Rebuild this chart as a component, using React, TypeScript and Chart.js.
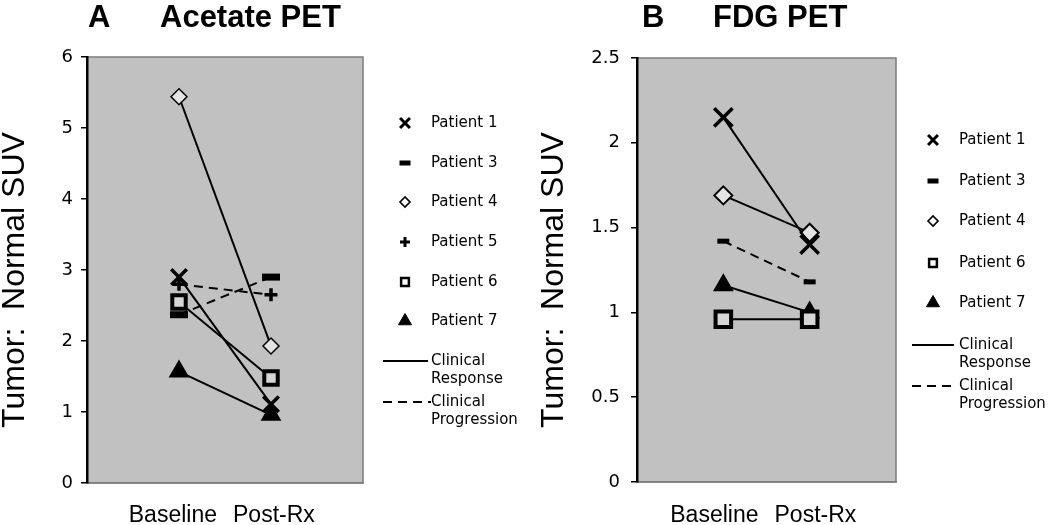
import React, { useEffect, useRef } from 'react';
import { Chart, registerables } from 'chart.js';
import { drawPoint } from 'chart.js/helpers';

Chart.register(...registerables);

// ---------- data ----------
const categories = ['Baseline', 'Post-Rx'];
const categoryPositions = [1, 2];

const acetateP1 = [2.9, 1.11];
const acetateP3 = [2.37, 2.9];
const acetateP4 = [5.44, 1.93];
const acetateP5 = [2.8, 2.65];
const acetateP6 = [2.55, 1.48];
const acetateP7 = [1.57, 0.96];

const fdgP1 = [2.15, 1.4];
const fdgP3 = [1.42, 1.18];
const fdgP4 = [1.69, 1.47];
const fdgP6 = [0.96, 0.96];
const fdgP7 = [1.16, 1.0];

const acetateTicks = [0, 1, 2, 3, 4, 5, 6];
const fdgTicks = [0, 0.5, 1, 1.5, 2, 2.5];

const yTitle = 'Tumor:  Normal SUV';

// ---------- styles ----------
type Marker = { pointStyle: string; radius: number; borderWidth: number; fill: string };

const markerStyles: Record<string, { plot: Marker; plotB: Marker; legend: Marker }> = {
  'Patient 1': {
    plot: { pointStyle: 'crossRot', radius: 11, borderWidth: 3.5, fill: '#000' },
    plotB: { pointStyle: 'crossRot', radius: 13, borderWidth: 3.5, fill: '#000' },
    legend: { pointStyle: 'crossRot', radius: 7, borderWidth: 3, fill: '#000' },
  },
  'Patient 3': {
    plot: { pointStyle: 'line', radius: 9, borderWidth: 7, fill: '#000' },
    plotB: { pointStyle: 'line', radius: 6, borderWidth: 5, fill: '#000' },
    legend: { pointStyle: 'line', radius: 5.5, borderWidth: 5, fill: '#000' },
  },
  'Patient 4': {
    plot: { pointStyle: 'rectRot', radius: 8, borderWidth: 1.5, fill: '#e4e4e4' },
    plotB: { pointStyle: 'rectRot', radius: 9, borderWidth: 2, fill: '#e4e4e4' },
    legend: { pointStyle: 'rectRot', radius: 5, borderWidth: 1.6, fill: '#fff' },
  },
  'Patient 5': {
    plot: { pointStyle: 'cross', radius: 6.5, borderWidth: 3.5, fill: '#000' },
    plotB: { pointStyle: 'cross', radius: 6.5, borderWidth: 3.5, fill: '#000' },
    legend: { pointStyle: 'cross', radius: 5, borderWidth: 3, fill: '#000' },
  },
  'Patient 6': {
    plot: { pointStyle: 'rect', radius: 9.5, borderWidth: 4, fill: '#d6d6d6' },
    plotB: { pointStyle: 'rect', radius: 11, borderWidth: 4, fill: '#d6d6d6' },
    legend: { pointStyle: 'rect', radius: 5.5, borderWidth: 2.5, fill: '#fff' },
  },
  'Patient 7': {
    plot: { pointStyle: 'triangle', radius: 10, borderWidth: 2, fill: '#000' },
    plotB: { pointStyle: 'triangle', radius: 10, borderWidth: 2, fill: '#000' },
    legend: { pointStyle: 'triangle', radius: 7.5, borderWidth: 1, fill: '#000' },
  },
};

type Series = { name: string; values: number[]; progression: boolean };

type PanelSpec = {
  letter: string;
  title: string;
  series: Series[];
  ticks: number[];
  yMax: number;
  area: { left: number; top: number; right: number; bottom: number };
  padLeft: number;
  tickPad: number;
  legend: { markerX: number; textX: number; rows: number[]; lineX0: number; lineX1: number; respY: number; progY: number };
  letterX: number;
  titleX: number;
  yTitleX: number;
  big: boolean;
};

const panelA: PanelSpec = {
  letter: 'A',
  title: 'Acetate PET',
  series: [
    { name: 'Patient 1', values: acetateP1, progression: false },
    { name: 'Patient 3', values: acetateP3, progression: true },
    { name: 'Patient 4', values: acetateP4, progression: false },
    { name: 'Patient 5', values: acetateP5, progression: true },
    { name: 'Patient 6', values: acetateP6, progression: false },
    { name: 'Patient 7', values: acetateP7, progression: false },
  ],
  ticks: acetateTicks,
  yMax: 6,
  area: { left: 87, top: 57, right: 363, bottom: 483 },
  padLeft: 0,
  tickPad: 8,
  legend: { markerX: 405, textX: 431, rows: [123, 163, 202, 242, 282, 321], lineX0: 383, lineX1: 428, respY: 361, progY: 402 },
  letterX: 88,
  titleX: 160,
  yTitleX: 15,
  big: false,
};

const panelB: PanelSpec = {
  letter: 'B',
  title: 'FDG PET',
  series: [
    { name: 'Patient 1', values: fdgP1, progression: false },
    { name: 'Patient 3', values: fdgP3, progression: true },
    { name: 'Patient 4', values: fdgP4, progression: false },
    { name: 'Patient 6', values: fdgP6, progression: false },
    { name: 'Patient 7', values: fdgP7, progression: false },
  ],
  ticks: fdgTicks,
  yMax: 2.5,
  area: { left: 112, top: 58, right: 371, bottom: 482 },
  padLeft: 14,
  tickPad: 11,
  legend: { markerX: 408, textX: 434, rows: [140, 181, 221, 263, 303], lineX0: 387, lineX1: 429, respY: 345, progY: 386 },
  letterX: 117,
  titleX: 188,
  yTitleX: 29,
  big: true,
};

const W = 525;
const H = 525;

function buildChart(canvas: HTMLCanvasElement, spec: PanelSpec) {
  const datasets = spec.series.map((s) => {
    const m = spec.big ? markerStyles[s.name].plotB : markerStyles[s.name].plot;
    return {
      label: s.name,
      data: s.values.map((v, i) => ({ x: categoryPositions[i], y: v })),
      borderColor: '#000',
      borderWidth: 2,
      borderDash: s.progression ? [9, 6] : [],
      pointStyle: m.pointStyle as any,
      pointRadius: m.radius,
      pointBorderWidth: m.borderWidth,
      pointBorderColor: '#000',
      pointBackgroundColor: m.fill,
      pointHoverRadius: m.radius,
      fill: false,
      tension: 0,
    };
  });

  const bgPlugin = {
    id: 'plotBg',
    beforeDraw(chart: any) {
      const { ctx, chartArea: a } = chart;
      ctx.save();
      ctx.fillStyle = '#c1c1c1';
      ctx.fillRect(a.left, a.top, a.right - a.left, a.bottom - a.top);
      ctx.strokeStyle = '#7c7c7c';
      ctx.lineWidth = 1.5;
      ctx.strokeRect(a.left, a.top, a.right - a.left, a.bottom - a.top);
      ctx.restore();
    },
  };

  const decoPlugin = {
    id: 'deco',
    afterDraw(chart: any) {
      const ctx: CanvasRenderingContext2D = chart.ctx;
      const a = chart.chartArea;
      ctx.save();
      // panel titles
      ctx.fillStyle = '#000';
      ctx.font = 'bold 31px "Liberation Sans", Arial, sans-serif';
      ctx.textBaseline = 'alphabetic';
      ctx.textAlign = 'left';
      ctx.fillText(spec.letter, spec.letterX, 27);
      ctx.fillText(spec.title, spec.titleX, 27);

      // y-axis title
      ctx.save();
      ctx.translate(spec.yTitleX, 280);
      ctx.rotate(-Math.PI / 2);
      ctx.font = '32px "Liberation Sans", Arial, sans-serif';
      ctx.textAlign = 'center';
      ctx.textBaseline = 'middle';
      ctx.fillText(yTitle, 0, 0);
      ctx.restore();

      // category labels under the plot, set against the middle of the axis
      const xs = chart.scales.x;
      const p0 = xs.getPixelForValue(categoryPositions[0]);
      const p1 = xs.getPixelForValue(categoryPositions[1]);
      const mid = (p0 + p1) / 2;
      ctx.font = '23px "Liberation Sans", Arial, sans-serif';
      ctx.textBaseline = 'alphabetic';
      ctx.textAlign = 'right';
      ctx.fillText(categories[0], mid - 8, 522);
      ctx.textAlign = 'left';
      ctx.fillText(categories[1], mid + 8, 522);

      // legend
      const L = spec.legend;
      ctx.font = '15px "DejaVu Sans", Verdana, sans-serif';
      ctx.textBaseline = 'middle';
      ctx.textAlign = 'left';
      spec.series.forEach((s, i) => {
        const m = markerStyles[s.name].legend;
        const y = L.rows[i];
        ctx.fillStyle = m.fill;
        ctx.strokeStyle = '#000';
        ctx.lineWidth = m.borderWidth;
        ctx.setLineDash([]);
        drawPoint(ctx, { pointStyle: m.pointStyle as any, radius: m.radius, rotation: 0, borderWidth: m.borderWidth }, L.markerX, y);
        ctx.fillStyle = '#000';
        ctx.fillText(s.name, L.textX, y);
      });
      ctx.strokeStyle = '#000';
      ctx.lineWidth = 2;
      ctx.setLineDash([]);
      ctx.beginPath();
      ctx.moveTo(L.lineX0, L.respY);
      ctx.lineTo(L.lineX1, L.respY);
      ctx.stroke();
      ctx.setLineDash([9, 6]);
      ctx.beginPath();
      ctx.moveTo(L.lineX0, L.progY);
      ctx.lineTo(L.lineX1 + 3, L.progY);
      ctx.stroke();
      ctx.setLineDash([]);
      ctx.fillStyle = '#000';
      ctx.fillText('Clinical', L.textX, L.respY);
      ctx.fillText('Response', L.textX, L.respY + 18);
      ctx.fillText('Clinical', L.textX, L.progY);
      ctx.fillText('Progression', L.textX, L.progY + 18);
      ctx.restore();
    },
  };

  const yAxisWidth = spec.area.left - spec.padLeft;
  const xAxisHeight = H - spec.area.bottom;

  return new Chart(canvas, {
    type: 'line',
    data: { datasets },
    plugins: [bgPlugin, decoPlugin],
    options: {
      animation: false,
      responsive: false,
      maintainAspectRatio: false,
      layout: {
        padding: { left: spec.padLeft, top: spec.area.top, right: W - spec.area.right, bottom: 0 },
      },
      plugins: {
        legend: { display: false },
        tooltip: { enabled: false },
        title: { display: false },
      },
      scales: {
        x: {
          type: 'linear',
          min: 0,
          max: 3,
          afterBuildTicks: (scale: any) => {
            scale.ticks = categoryPositions.map((v) => ({ value: v }));
          },
          afterFit: (scale: any) => {
            scale.height = xAxisHeight;
          },
          grid: { display: false, drawTicks: false },
          border: { display: true, color: '#7c7c7c', width: 1.5 },
          ticks: { display: false },
        },
        y: {
          type: 'linear',
          min: 0,
          max: spec.yMax,
          afterBuildTicks: (scale: any) => {
            scale.ticks = spec.ticks.map((v) => ({ value: v }));
          },
          afterFit: (scale: any) => {
            scale.width = yAxisWidth;
          },
          grid: { display: true, drawOnChartArea: false, drawTicks: true, tickLength: 6, color: '#000', lineWidth: 1.5 },
          border: { display: true, color: '#000', width: 2.5 },
          ticks: {
            padding: spec.tickPad,
            color: '#000',
            font: { family: '"DejaVu Sans", Verdana, sans-serif', size: 18 },
            callback: (v: any) => String(v),
          },
          title: { display: false },
        },
      },
    } as any,
  });
}

function Panel({ spec, left }: { spec: PanelSpec; left: number }) {
  const ref = useRef<HTMLCanvasElement>(null);
  useEffect(() => {
    if (!ref.current) return;
    const chart = buildChart(ref.current, spec);
    return () => chart.destroy();
  }, [spec]);
  return (
    <div style={{ position: 'absolute', left, top: 0, width: W, height: H }}>
      <canvas ref={ref} width={W} height={H} style={{ width: W, height: H, display: 'block' }} />
    </div>
  );
}

export default function App() {
  return (
    <div style={{ position: 'fixed', left: 0, top: 0, width: 1050, height: 525, background: '#fff', overflow: 'hidden' }}>
      <Panel spec={panelA} left={0} />
      <Panel spec={panelB} left={525} />
    </div>
  );
}
